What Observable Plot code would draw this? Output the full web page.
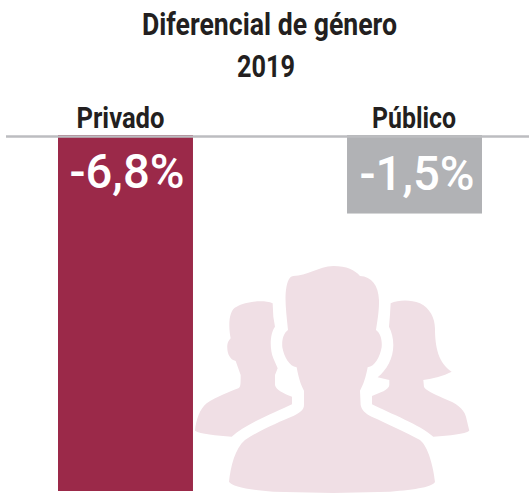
<!DOCTYPE html>
<html>
<head>
<meta charset="utf-8">
<script src="https://cdn.jsdelivr.net/npm/d3@7"></script>
<script src="https://cdn.jsdelivr.net/npm/@observablehq/plot@0.6"></script>
<style>
html,body{margin:0;padding:0;background:#fff;width:529px;height:493px;overflow:hidden}
#t{position:relative;height:90px;font-family:Roboto,sans-serif;font-weight:700;color:#231f20;font-size:31px}
#t span{position:absolute;white-space:nowrap;line-height:34px;transform-origin:0 0}
svg{display:block}
</style>
</head>
<body>
<div id="t"><span data-x="142" data-w="255" style="top:8px">Diferencial de género</span><span data-x="237" data-w="58" style="top:50px">2019</span></div>
<script>
const sectors = ["Privado", "Público"];
const gaps = [-6.8, -1.5];
const gapLabels = ["-6,8%", "-1,5%"];
const barColors = ["#9b2949", "#b1b2b5"];
const nameOffsets = [-5.5, -1];
const nameWidths = {"Privado": 88, "Público": 84};
const valueOffsets = [1, 2];
const valueDrops = [37.5, 39];
const valueWidths = {"-6,8%": 115, "-1,5%": 115};
const rows = sectors.map((s, i) => ({s, v: gaps[i], l: gapLabels[i], c: barColors[i]}));

const centerFig = "M310 48C350 48 385 20 430 18C470 18 495 30 510 48C545 50 565 75 567 120C568 150 562 185 558 210C572 220 577 240 575 262C570 290 555 320 533 322C528 350 520 375 510 392L512 435C515 450 525 460 545 470C590 490 650 518 690 540C715 560 730 620 735 665C730 680 680 688 600 695L430 699L250 695C180 690 125 680 117 665C122 620 135 565 165 540C210 510 270 485 310 468C330 458 342 450 342 435L342 392C332 375 325 350 320 322C298 320 282 290 277 262C275 240 280 220 294 210C290 170 285 130 287 100C290 70 295 50 310 48Z";
const leftFig = "M140 140C165 125 220 118 248 130L250 170L255 200C240 220 238 265 250 295L263 325L255 345L255 375C258 390 280 400 306 410L306 433C260 455 170 490 125 530C80 527 30 522 15 512C18 480 30 445 50 430C80 410 120 395 145 385C152 380 152 375 152 345L137 303C120 300 110 280 112 255C113 245 118 240 122 235C115 200 115 150 140 140Z";
const rightFig = "M602 130C625 120 660 118 690 130C720 145 735 175 735 205C735 260 745 310 785 335C760 348 730 355 700 360L702 380C705 390 730 400 760 415C800 430 820 445 828 470L838 512C825 522 780 527 730 530C690 495 600 460 546 433L546 408C570 398 597 390 598 375L598 360L563 352C590 330 610 295 610 255C610 235 605 215 597 200L600 165Z";

function icon() {
  const g = d3.create("svg:g").attr("transform", "translate(190,170) scale(0.3333)").attr("fill", "#f0dfe5");
  for (const d of [leftFig, rightFig, centerFig]) g.append("path").attr("d", d);
  return g.node();
}

const chart = Plot.plot({
  width: 529,
  height: 403,
  marginTop: 45,
  marginBottom: 2,
  marginLeft: 6,
  marginRight: 0,
  style: {fontFamily: "Roboto,sans-serif", background: "#fff", overflow: "visible"},
  x: {type: "band", domain: sectors, range: [58, 482], paddingInner: 0.533, paddingOuter: 0, round: false, axis: null},
  y: {domain: [0, -6.8], range: [45, 401], axis: null},
  marks: [
    icon,
    Plot.barY(rows, {x: "s", y: "v", fill: "c"}),
    Plot.ruleY([0], {stroke: "#bcbdc0", strokeWidth: 2.5, dy: 1}),
    rows.map((r, i) => Plot.text([r], {x: "s", y: 0, text: "s", fill: "#231f20", fontSize: 30, fontWeight: 700, dx: nameOffsets[i], dy: -17})),
    rows.map((r, i) => Plot.text([r], {x: "s", y: 0, text: "l", fill: "#fff", fontSize: 48, fontWeight: 500, dx: valueOffsets[i], dy: valueDrops[i]}))
  ]
});
document.body.appendChild(chart);

// Condense the labels to the narrow proportions of the reference's typeface
const fitted = {...nameWidths, ...valueWidths};
chart.querySelectorAll("text").forEach((t) => {
  const w = fitted[t.textContent];
  if (w) {
    t.setAttribute("textLength", w);
    t.setAttribute("lengthAdjust", "spacingAndGlyphs");
  }
});
document.querySelectorAll("#t span").forEach((s) => {
  s.style.left = s.dataset.x + "px";
  s.style.transform = `scaleX(${s.dataset.w / s.getBoundingClientRect().width})`;
});
</script>
</body>
</html>
